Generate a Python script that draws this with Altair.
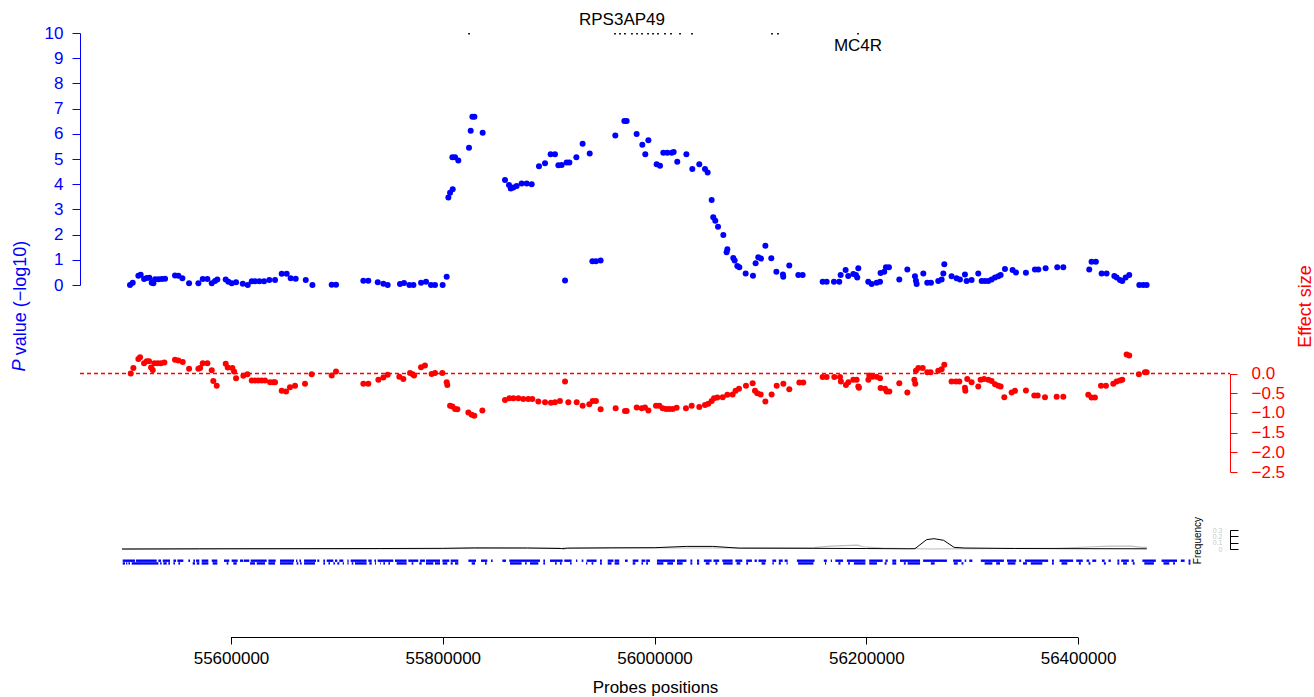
import altair as alt
import pandas as pd

# ---------------- data (positions in kb) ----------------
blue_pos = [55504.6,55507.2,55512.5,55514.7,55517.9,55520.4,55522.9,55525.1,55526.7,55528.3,55531.4,55534.6,55537.7,
            55547.1,55550.3,55554.1,55560.4,55569.2,55573.3,55577.7,55581.8,55584.9,55587.1,55595.0,55597.5,55600.7,
            55604.8,55611.1,55615.8,55619.6,55622.7,55626.8,55631.2,55636.2,55641.6,55647.9,55652.6,55656.4,55661.1,
            55670.6,55676.9,55695.1,55699.2,55725.0,55729.7,55738.6,55743.9,55748.0,55759.6,55763.4,55768.5,55772.3,
            55779.5,55784.2,55788.9,55792.7,55799.9,55803.7,55805.3,55806.9,55809.4,55809.1,55811.6,55814.7,55824.8,
            55826.4,55828.0,55829.9,55837.7,55858.8,55862.6,55864.2,55866.7,55869.8,55874.5,55879.3,55884.0,55890.9,
            55896.6,55901.9,55906.0,55909.2,55912.3,55915.5,55917.0,55919.6,55926.2,55932.1,55938.8,55941.3,55944.7,
            55949.1,55963.0,55971.5,55973.7,55983.1,55988.5,55991.3,55994.2,56002.0,56005.2,56008.3,56012.1,56016.2,
            56018.1,56021.5,56030.1,56035.7,56042.3,56047.7,56050.2,56054.0,56055.5,56057.4,56060.0,56065.0,56068.1,
            56068.8,56074.4,56075.7,56078.2,56080.1,56086.1,56093.0,56095.5,56098.0,56100.6,56104.7,56110.3,56115.1,
            56121.3,56121.6,56127.3,56135.8,56139.9,56158.8,56162.6,56169.5,56174.5,56175.8,56180.5,56183.0,56187.8,
            56190.3,56191.5,56192.5,56201.9,56205.1,56209.8,56213.0,56213.5,56217.0,56218.6,56221.4,56231.2,56238.8,
            56246.0,56246.9,56247.6,56253.9,56257.6,56261.1,56268.0,56271.2,56272.8,56273.7,56280.6,56285.3,56288.5,
            56293.2,56294.8,56299.5,56305.8,56309.0,56312.1,56315.3,56318.4,56321.6,56324.7,56326.9,56331.0,56338.2,
            56341.4,56350.8,56359.3,56362.5,56369.4,56380.4,56386.1,56410.6,56412.8,56416.9,56422.3,56427.0,56434.3,
            56436.5,56439.6,56441.8,56445.0,56448.4,56457.9,56461.6,56464.8]
blue_p = [0.0,0.09,0.37,0.41,0.24,0.28,0.29,0.09,0.07,0.23,0.23,0.24,0.25,
          0.38,0.37,0.27,0.07,0.07,0.24,0.24,0.07,0.16,0.22,0.22,0.13,0.07,
          0.11,0.05,0.0,0.15,0.15,0.15,0.15,0.2,0.2,0.45,0.45,0.27,0.25,
          0.2,0.0,0.01,0.01,0.17,0.17,0.11,0.05,0.0,0.04,0.08,0.0,0.0,
          0.09,0.13,0.0,0.0,0.0,0.33,3.47,3.66,3.8,5.07,5.07,4.94,5.45,
          6.12,6.68,6.68,6.04,4.17,3.97,3.83,3.87,3.93,4.03,4.03,4.0,4.71,
          4.83,5.19,5.19,4.75,4.76,0.18,4.86,4.86,5.07,5.61,5.22,0.94,0.94,
          0.97,5.93,6.51,6.51,5.99,5.57,5.19,5.74,4.79,4.73,5.25,5.25,5.25,
          5.28,4.89,5.19,4.6,4.79,4.6,4.46,3.37,2.69,2.55,2.31,1.98,1.3,
          1.42,1.07,0.97,0.75,0.7,0.46,0.37,0.86,1.1,1.05,1.56,1.06,0.53,
          0.42,0.33,0.77,0.4,0.4,0.13,0.13,0.13,0.13,0.4,0.6,0.36,0.44,
          0.4,0.3,0.66,0.13,0.04,0.09,0.13,0.48,0.53,0.7,0.7,0.22,0.62,
          0.35,0.17,0.04,0.46,0.09,0.09,0.16,0.22,0.46,0.82,0.35,0.27,0.22,
          0.42,0.16,0.2,0.46,0.16,0.16,0.16,0.22,0.3,0.35,0.4,0.63,0.6,
          0.5,0.49,0.62,0.62,0.66,0.7,0.7,0.62,0.92,0.92,0.46,0.46,0.36,
          0.3,0.2,0.16,0.3,0.4,0.0,0.0,0.0]

red_pos = [55505.3,55507.8,55512.5,55514.1,55517.9,55520.4,55522.6,55524.5,55526.1,55527.6,55530.8,55533.9,55537.1,
           55547.1,55550.3,55554.4,55560.4,55569.2,55570.8,55573.3,55577.7,55581.8,55583.3,55586.5,55595.0,55596.9,
           55601.3,55602.9,55604.8,55611.7,55615.5,55619.6,55622.7,55625.8,55629.0,55632.1,55636.9,55640.0,55641.6,
           55647.9,55652.0,55655.7,55660.5,55669.9,55676.2,55695.1,55699.2,55725.0,55729.7,55739.2,55743.9,55748.0,
           55759.0,55762.8,55769.1,55771.6,55772.9,55779.5,55783.2,55789.5,55792.7,55799.6,55803.7,55804.3,55806.9,
           55809.1,55811.6,55813.8,55824.2,55827.3,55829.8,55837.4,55858.8,55862.9,55866.7,55871.4,55876.1,55880.8,
           55884.6,55890.3,55896.6,55902.2,55906.0,55910.7,55915.5,55918.6,55926.5,55932.1,55938.4,55941.6,55944.7,
           55949.1,55963.3,55972.1,55973.7,55983.2,55987.9,55991.0,55994.2,56001.4,56004.6,56007.7,56010.9,56014.0,
           56017.2,56020.9,56029.7,56035.1,56042.3,56047.7,56050.8,56054.0,56056.2,56059.3,56064.4,56068.8,56073.8,
           56076.6,56079.8,56086.4,56092.7,56094.9,56097.1,56100.3,56104.7,56110.6,56115.4,56121.7,56127.3,56136.8,
           56140.5,56158.8,56162.6,56169.8,56175.2,56176.1,56180.8,56183.1,56187.8,56190.9,56192.5,56193.1,56202.0,
           56202.9,56206.0,56209.8,56213.0,56213.5,56217.7,56219.3,56221.8,56231.2,56238.8,56245.4,56246.3,56246.9,
           56249.2,56253.3,56257.6,56260.8,56268.0,56271.2,56273.7,56280.6,56284.7,56287.9,56293.2,56293.6,56295.4,
           56299.5,56305.8,56308.0,56311.2,56315.3,56318.4,56321.6,56324.7,56326.9,56330.4,56337.3,56340.5,56350.8,
           56358.7,56361.9,56368.8,56379.8,56386.1,56409.7,56412.8,56416.0,56421.7,56426.4,56433.3,56436.5,56439.6,
           56441.8,56445.9,56448.4,56457.5,56463.2,56464.8]
red_eff = [0.0,0.14,0.37,0.41,0.26,0.31,0.31,0.15,0.09,0.26,0.26,0.26,0.28,
           0.35,0.33,0.29,0.12,0.12,0.14,0.26,0.26,0.08,-0.19,-0.31,0.25,0.15,
           0.14,0.05,-0.12,-0.06,-0.02,-0.18,-0.18,-0.18,-0.18,-0.18,-0.22,-0.22,-0.22,
           -0.44,-0.46,-0.35,-0.31,-0.26,-0.02,-0.05,0.05,-0.26,-0.26,-0.16,-0.1,-0.03,
           -0.08,-0.14,0.01,-0.02,-0.05,0.16,0.2,-0.01,0.01,0.01,-0.22,-0.29,-0.82,
           -0.84,-0.9,-0.91,-0.99,-1.05,-1.07,-0.94,-0.67,-0.63,-0.63,-0.63,-0.65,-0.65,
           -0.65,-0.71,-0.73,-0.74,-0.73,-0.7,-0.2,-0.73,-0.73,-0.82,-0.78,-0.7,-0.7,
           -0.91,-0.88,-0.95,-0.95,-0.86,-0.88,-0.86,-0.94,-0.82,-0.82,-0.88,-0.9,-0.9,
           -0.9,-0.87,-0.88,-0.82,-0.85,-0.8,-0.77,-0.7,-0.63,-0.61,-0.6,-0.54,-0.53,
           -0.44,-0.39,-0.31,-0.25,-0.44,-0.5,-0.53,-0.71,-0.53,-0.31,-0.26,-0.4,-0.23,
           -0.23,-0.09,-0.09,-0.09,-0.09,-0.2,-0.29,-0.22,-0.16,-0.16,-0.33,-0.36,-0.16,
           -0.05,-0.08,-0.08,-0.12,-0.37,-0.39,-0.46,-0.46,-0.25,-0.48,-0.16,-0.26,0.07,
           0.14,0.14,0.03,0.03,0.07,0.11,0.22,-0.2,-0.2,-0.2,-0.36,-0.44,-0.14,
           -0.22,-0.33,-0.16,-0.14,-0.16,-0.19,-0.27,-0.31,-0.33,-0.6,-0.48,-0.44,-0.43,
           -0.56,-0.56,-0.6,-0.59,-0.59,-0.54,-0.61,-0.61,-0.31,-0.31,-0.26,-0.2,-0.18,
           -0.16,0.48,0.46,-0.02,0.03,0.03]

# allele frequency tracks
freq_black_pos = [55497,55570,55650,55740,55800,55830,55880,55912,55918,55960,56000,56030,56055,56080,56150,56200,
                  56240,56246,56257,56264,56273,56283,56293,56340,56400,56465]
freq_black = [0.005,0.008,0.010,0.012,0.015,0.022,0.020,0.012,0.018,0.022,0.025,0.045,0.045,0.018,0.015,0.012,
              0.008,0.010,0.150,0.165,0.140,0.030,0.020,0.012,0.010,0.008]
freq_gray_pos = [55497,55600,55700,55800,55880,55910,55914,55918,55960,56000,56080,56150,56166,56185,56192,56197,
                 56215,56260,56300,56380,56415,56430,56450,56460,56465]
freq_gray = [0.0,0.005,0.008,0.012,0.02,0.02,0.0,0.02,0.025,0.02,0.02,0.025,0.05,0.06,0.065,0.04,
             0.02,0.005,0.012,0.015,0.04,0.05,0.05,0.03,0.03]

# probe positions (start, end in kb), two rows
probes_top = [(55497.7,55509.4),(55510.3,55529.8),(55531.4,55533.9),(55535.5,55542.4),(55545.6,55548.1),
              (55549.3,55555.0),(55559.7,55561.3),(55564.4,55566.0),(55567.0,55570.1),(55572.3,55578.6),
              (55581.8,55587.1),(55593.4,55598.4),(55600.6,55606.3),(55608.5,55611.7),(55612.3,55617.3),
              (55618.6,55633.7),(55635.3,55642.2),(55646.3,55659.5),(55661.4,55662.7),(55664.6,55666.1),
              (55669.0,55680.3),(55681.5,55683.4),(55687.2,55688.8),(55690.4,55696.7),(55698.2,55700.4),
              (55702.3,55706.1),(55709.9,55711.1),(55713.0,55728.1),(55729.7,55732.9),(55735.4,55737.0),
              (55738.5,55753.3),(55754.9,55765.9),(55767.5,55776.9),(55778.5,55783.2),(55784.2,55797.4),
              (55799.6,55806.2),(55807.5,55814.7),(55824.2,55831.4),(55836.1,55842.1),(55845.6,55847.1),
              (55856.3,55859.7),(55862.9,55891.8),(55895.0,55896.6),(55901.3,55913.2),(55914.8,55921.7),
              (55925.8,55927.1),(55931.2,55932.8),(55935.9,55945.3),(55948.5,55950.3),(55955.8,55961.2),
              (55962.3,55966.7),(55972.1,55974.7),(55979.4,55984.8),(55987.7,55991.4),(55992.1,55995.7),
              (56002.3,56019.3),(56021.2,56030.2),(56033.9,56035.7),(56040.1,56042.2),(56046.6,56053.9),
              (56055.7,56061.1),(56064.0,56073.8),(56076.4,56082.9),(56086.6,56092.0),(56094.5,56096.7),
              (56098.2,56105.4),(56111.3,56114.9),(56117.4,56121.1),(56122.9,56125.8),(56134.5,56151.2),
              (56159.9,56162.8),(56166.5,56167.6),(56170.8,56178.1),(56181.7,56199.2),(56202.8,56215.5),
              (56218.1,56220.3),(56224.6,56228.3),(56231.9,56250.8),(56253.7,56276.2),(56282.0,56290.0),
              (56292.9,56294.4),(56297.3,56300.2),(56308.2,56330.0),(56332.9,56341.6),(56344.5,56346.3),
              (56350.0,56371.8),(56375.4,56377.2),(56382.6,56395.4),(56398.3,56404.5),(56408.1,56410.6),
              (56413.5,56417.2),(56422.6,56425.2),(56428.8,56431.0),(56437.2,56439.0),(56440.8,56448.0),
              (56450.6,56452.7),(56460.8,56473.5),(56478.9,56493.5),(56497.1,56500.7),(56504.4,56506.2)]
probes_bottom = [(55497.7,55499.9),(55500.9,55502.1),(55503.1,55504.6),(55506.2,55531.4),(55533.0,55534.5),
                 (55536.1,55539.3),(55540.8,55542.4),(55545.6,55547.1),(55550.3,55551.9),(55563.8,55566.0),
                 (55567.6,55570.1),(55572.3,55578.6),(55582.7,55587.1),(55595.9,55597.5),(55602.2,55605.4),
                 (55618.0,55622.7),(55624.3,55632.1),(55635.3,55641.6),(55646.3,55658.9),(55662.0,55663.6),
                 (55665.2,55666.8),(55669.0,55679.3),(55687.2,55688.8),(55692.0,55693.5),(55696.7,55698.2),
                 (55700.4,55702.3),(55705.5,55706.7),(55709.9,55711.1),(55714.0,55715.5),(55717.1,55728.1),
                 (55730.7,55732.9),(55736.0,55737.0),(55740.7,55741.4),(55743.9,55745.5),(55748.6,55750.2),
                 (55756.5,55765.9),(55770.6,55772.2),(55777.9,55780.1),(55784.2,55791.1),(55792.7,55797.4),
                 (55799.9,55804.3),(55807.5,55809.4),(55811.6,55814.7),(55827.3,55830.5),(55839.9,55841.5),
                 (55863.5,55874.5),(55877.7,55879.3),(55882.4,55890.3),(55895.0,55896.6),(55906.0,55907.6),
                 (55910.7,55912.3),(55920.2,55921.7),(55935.3,55936.5),(55940.6,55942.2),(55948.5,55950.3),
                 (55955.8,55959.4),(55962.3,55966.7),(55979.4,55981.9),(55987.7,55989.2),(55992.1,55993.9),
                 (56002.3,56008.4),(56012.1,56017.5),(56021.2,56026.6),(56033.9,56035.7),(56040.1,56042.2),
                 (56048.4,56052.0),(56057.5,56059.3),(56064.8,56073.8),(56077.5,56081.1),(56086.6,56088.4),
                 (56101.1,56104.7),(56111.3,56112.7),(56117.4,56119.3),(56124.7,56125.8),(56135.6,56150.1),
                 (56161.0,56162.1),(56173.7,56175.6),(56182.8,56184.6),(56188.3,56199.2),(56202.8,56210.1),
                 (56217.3,56219.2),(56224.6,56228.3),(56235.5,56237.3),(56239.1,56250.8),(56261.0,56264.6),
                 (56282.7,56286.4),(56290.0,56291.8),(56311.8,56319.1),(56322.7,56326.3),(56333.6,56340.9),
                 (56348.1,56351.8),(56355.4,56366.3),(56375.4,56377.2),(56384.4,56389.9),(56400.8,56402.7),
                 (56409.9,56411.7),(56424.4,56426.3),(56437.2,56439.0),(56442.6,56446.2),(56451.7,56453.5),
                 (56462.6,56471.7),(56480.7,56486.2),(56489.8,56491.6),(56504.4,56506.2)]

gene_marks = [55824.8,55962.7,55967.4,55972.1,55978.7,55983.5,55988.2,55993.9,55998.6,56003.3,56009.9,
              56015.6,56024.1,56035.4,56111.0,56116.6,56192.2]
gene_names = ["RPS3AP49", "MC4R"]
gene_label_pos = [55969.3, 56192.2]
gene_label_level = [10.52, 9.48]

x_domain = [55457380, 56543556]
x_ticks = [55600000, 55800000, 56000000, 56200000, 56400000]
p_ticks = list(range(11))
eff_ticks = [0.0, -0.5, -1.0, -1.5, -2.0, -2.5]
freq_ticks = [0, 0.1, 0.2, 0.3]

# ---------------- frames ----------------
KB = 1000
df_blue = pd.DataFrame({"pos": [v * KB for v in blue_pos], "p": blue_p})
df_red = pd.DataFrame({"pos": [v * KB for v in red_pos], "eff": red_eff})
df_zero = pd.DataFrame({"pos": [x_domain[0]], "end": [x_domain[1]], "eff": [0.0]})
df_fb = pd.DataFrame({"pos": [v * KB for v in freq_black_pos], "f": freq_black})
df_fg = pd.DataFrame({"pos": [v * KB for v in freq_gray_pos], "f": freq_gray})
rows = []
for s, e in probes_top:
    rows.append({"pos": s * KB, "end": e * KB, "row": 0})
for s, e in probes_bottom:
    rows.append({"pos": s * KB, "end": e * KB, "row": 1})
df_probes = pd.DataFrame(rows)
df_gm = pd.DataFrame({"pos": [v * KB for v in gene_marks], "p": [9.97] * len(gene_marks)})
df_gl = pd.DataFrame({"pos": [v * KB for v in gene_label_pos], "p": gene_label_level, "name": gene_names})
df_xline = pd.DataFrame({"pos": [x_ticks[0]], "end": [x_ticks[-1]]})
df_pitalic = pd.DataFrame({"t": ["P"]})

FONT = "Liberation Sans"
BLUE = "#0000ff"
RED = "#ff0000"

xscale = alt.Scale(domain=x_domain, nice=False, zero=False)
pscale = alt.Scale(domain=[0, 10], range=[285, 33], nice=False, zero=False)
escale = alt.Scale(domain=[-2.5, 0], range=[472, 373.5], nice=False, zero=False)
fscale = alt.Scale(domain=[0, 0.3], range=[549.3, 530], nice=False, zero=False)
rscale = alt.Scale(domain=[0, 1], range=[560.7, 563.4], nice=False, zero=False)

# identical x axis spec in every layer so that the shared axis merges cleanly
x_axis = alt.Axis(orient="bottom", offset=-60, values=x_ticks, format="d", domain=False,
                  tickSize=7, tickColor="black", tickWidth=1, grid=False,
                  labelFont=FONT, labelFontSize=17, labelColor="black", labelPadding=6,
                  labelFlush=False, labelOverlap=False,
                  title="Probes positions", titleFont=FONT, titleFontSize=17,
                  titleFontWeight="normal", titleColor="black", titleY=50, titleBaseline="middle")


def X(field="pos"):
    return alt.X(f"{field}:Q", scale=xscale, axis=x_axis)


blue = alt.Chart(df_blue).mark_circle(size=36, color=BLUE, opacity=1).encode(
    x=X(),
    y=alt.Y("p:Q", scale=pscale, axis=alt.Axis(
        orient="left", values=p_ticks, grid=False, domainColor=BLUE, tickColor=BLUE,
        tickSize=8, labelColor=BLUE, labelFont=FONT, labelFontSize=17, labelPadding=9,
        labelFlush=False, labelOverlap=False, labelBaseline="middle",
        title="value (\u2212log10)", titleFont=FONT, titleFontSize=18, titleFontWeight="normal",
        titleColor=BLUE, titleAngle=270, titleX=-60, titleY=297.5, titleAlign="center",
        titleBaseline="middle")),
)

# italic "P" that starts the left axis title
pital = alt.Chart(df_pitalic).mark_text(font=FONT, fontSize=18, fontStyle="italic", color=BLUE,
                                        angle=270, align="center", baseline="middle").encode(
    x=alt.value(-60), y=alt.value(365.5), text="t:N"
)

red = alt.Chart(df_red).mark_circle(size=36, color=RED, opacity=1).encode(
    x=X(),
    y=alt.Y("eff:Q", scale=escale, axis=alt.Axis(
        orient="right", values=eff_ticks, format=".1f", grid=False, domainColor=RED, tickColor=RED,
        tickSize=7, labelColor=RED, labelFont=FONT, labelFontSize=17, labelPadding=14,
        labelFlush=False, labelOverlap=False, labelBaseline="middle",
        title="Effect size", titleFont=FONT, titleFontSize=18, titleFontWeight="normal",
        titleColor=RED, titleAngle=270, titleX=75, titleY=306, titleAlign="center",
        titleBaseline="middle")),
)

zero = alt.Chart(df_zero).mark_rule(stroke=RED, strokeDash=[4, 3], strokeWidth=1.5,
                                    opacity=1).encode(
    x=X(),
    x2="end:Q",
    y=alt.Y("eff:Q", scale=escale, axis=None),
)

fgray = alt.Chart(df_fg).mark_line(color="#bdbdbd", strokeWidth=1.2).encode(
    x=X(),
    y=alt.Y("f:Q", scale=fscale, axis=alt.Axis(
        orient="right", values=freq_ticks, labels=False, grid=False, domainColor="black",
        tickColor="black", tickSize=8, title=None)),
)

fblack = alt.Chart(df_fb).mark_line(color="black", strokeWidth=1).encode(
    x=X(),
    y=alt.Y("f:Q", scale=fscale, axis=alt.Axis(
        orient="left", offset=-1150, values=freq_ticks, format="~g", grid=False, domain=False,
        ticks=False, tickSize=0, labelPadding=8, labelColor="#c8c8c8", labelFont=FONT,
        labelFontSize=7, labelFlush=False, labelOverlap=False, labelBaseline="middle",
        title="Frequency", titleFont=FONT, titleFontSize=10, titleFontWeight="normal",
        titleColor="black", titleAngle=270, titleX=-33, titleY=540, titleAlign="center",
        titleBaseline="middle")),
)

probes = alt.Chart(df_probes).mark_rule(color=BLUE, strokeWidth=2.4, strokeCap="butt").encode(
    x=X(),
    x2="end:Q",
    y=alt.Y("row:Q", scale=rscale, axis=None),
)

gmarks = alt.Chart(df_gm).mark_square(size=3, color="black", opacity=1).encode(
    x=X(),
    y=alt.Y("p:Q", scale=pscale, axis=None),
)

glabels = alt.Chart(df_gl).mark_text(font=FONT, fontSize=17, color="black", align="center",
                                     baseline="middle").encode(
    x=X(),
    y=alt.Y("p:Q", scale=pscale, axis=None),
    text="name:N",
)

xline = alt.Chart(df_xline).mark_rule(color="black", strokeWidth=1).encode(
    x=X(),
    x2="end:Q",
    y=alt.value(637.5),
)

chart = alt.layer(blue, zero, red, fgray, fblack, probes, gmarks, glabels, xline, pital).resolve_scale(
    y="independent"
).properties(
    width=1150, height=697,
    autosize=alt.AutoSizeParams(type="none"),
    padding={"left": 80, "right": 84, "top": 0, "bottom": 0},
    background="white",
).configure_view(strokeWidth=0)

chart.save("out.html", embed_options={"renderer": "svg", "actions": False})
